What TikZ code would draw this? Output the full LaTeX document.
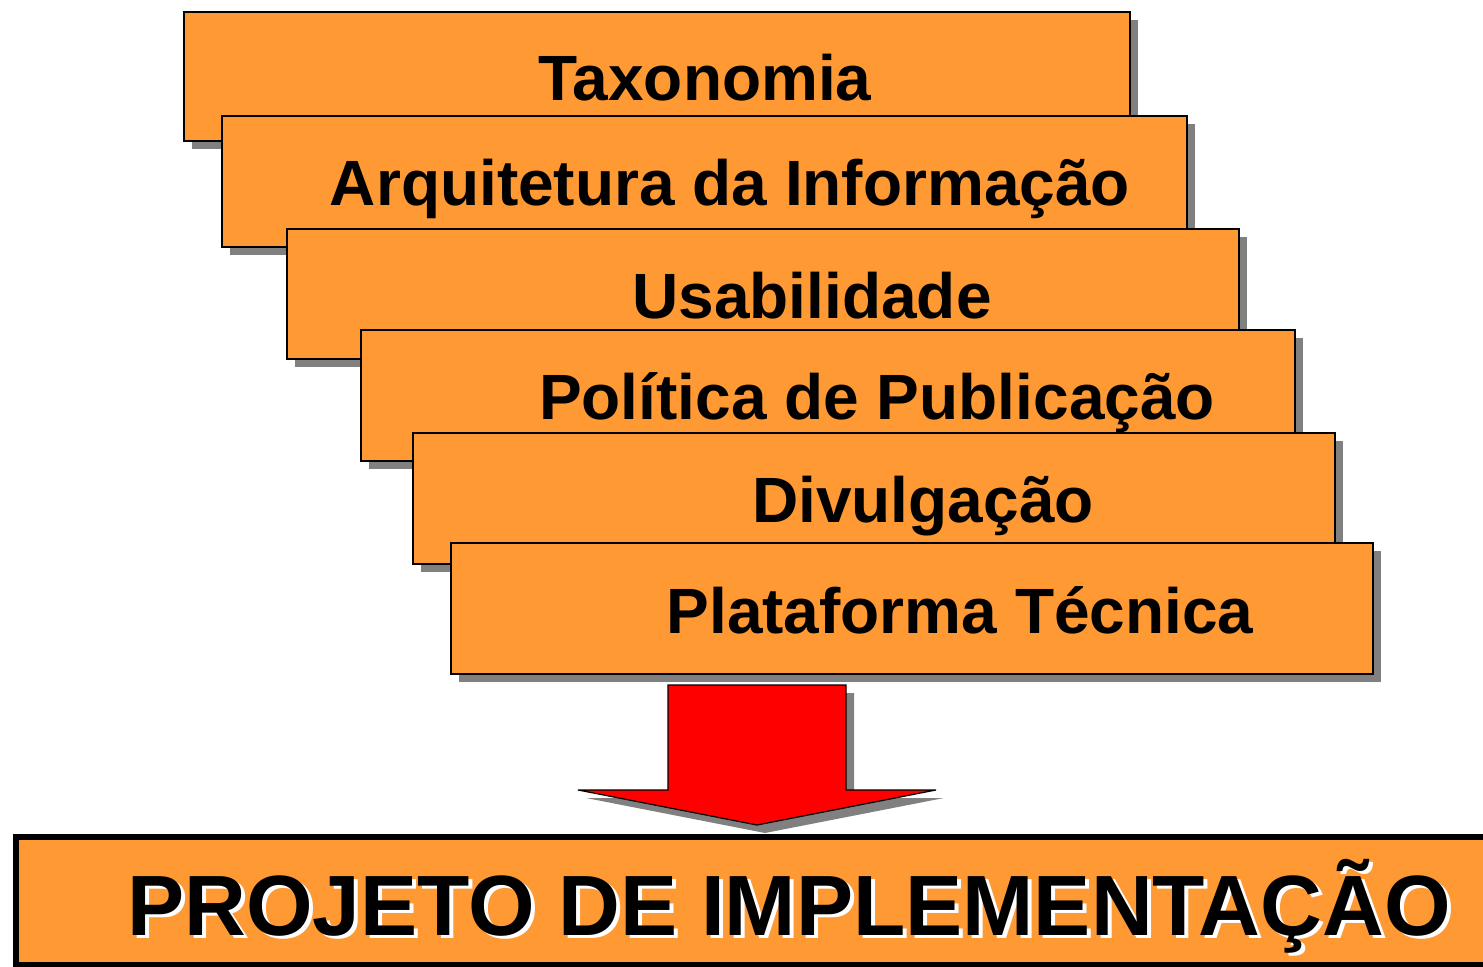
\documentclass[tikz,border=0pt]{standalone}
\usepackage{fontspec}
\setmainfont{Liberation Sans}
\usetikzlibrary{shadows}
\definecolor{boxorange}{RGB}{255,153,51}
\definecolor{shadowgray}{RGB}{128,128,128}
\tikzset{
  layerbox/.style={draw=black, line width=0.6pt, fill=boxorange, rectangle, inner sep=0pt,
    general shadow={fill=shadowgray, shadow xshift=4pt, shadow yshift=-4pt}},
  layertext/.style={anchor=base, inner sep=0pt, font=\fontsize{32}{32}\selectfont\bfseries},
  bigtext/.style={anchor=base, inner sep=0pt, font=\fontsize{42.8}{43}\selectfont\bfseries}
}
\begin{document}
\begin{tikzpicture}[x=0.5pt,y=-0.5pt]
\useasboundingbox (0,0) rectangle (1483,967);
% layered boxes
\node[layerbox, minimum width=473pt, minimum height=64.5pt] (b1) at (657,76.5) {};
\node[layertext] (t1) at (705,101) {Taxonomia};
\node[layerbox, minimum width=482.5pt, minimum height=65.5pt] (b2) at (704.5,181.5) {};
\node[layertext] (t2) at (730,206) {Arquitetura da Informação};
\node[layerbox, minimum width=476pt, minimum height=65pt] (b3) at (763,294) {};
\node[layertext] (t3) at (812,319) {Usabilidade};
\node[layerbox, minimum width=467pt, minimum height=65.5pt] (b4) at (828,395.5) {};
\node[layertext] (t4) at (877,420) {Política de Publicação};
\node[layerbox, minimum width=461pt, minimum height=65.5pt] (b5) at (874,498.5) {};
\node[layertext] (t5) at (923,523) {Divulgação};
\node[layerbox, minimum width=461pt, minimum height=65.5pt] (b6) at (912,608.5) {};
\node[layertext] (t6) at (960,633) {Plataforma Técnica};
% arrow
\coordinate (a1) at (668,685);
\coordinate (a2) at (846,685);
\coordinate (a3) at (846,790);
\coordinate (a4) at (936,790);
\coordinate (a5) at (757,825);
\coordinate (a6) at (578,790);
\coordinate (a7) at (668,790);
\fill[shadowgray, transform canvas={xshift=4pt, yshift=-4pt}] (a1) -- (a2) -- (a3) -- (a4) -- (a5) -- (a6) -- (a7) -- cycle;
\draw[fill=red, line width=0.6pt, line join=miter] (a1) -- (a2) -- (a3) -- (a4) -- (a5) -- (a6) -- (a7) -- cycle;
% bottom box
\node[draw=black, line width=3pt, fill=boxorange, rectangle, inner sep=0pt,
  minimum width=737pt, minimum height=64pt] (proj) at (753,901) {};
\node[bigtext, text=white] (pw) at (793,938) {PROJETO DE IMPLEMENTAÇÃO};
\node[bigtext, text=black] (pb) at (789,935) {PROJETO DE IMPLEMENTAÇÃO};
\end{tikzpicture}
\end{document}
